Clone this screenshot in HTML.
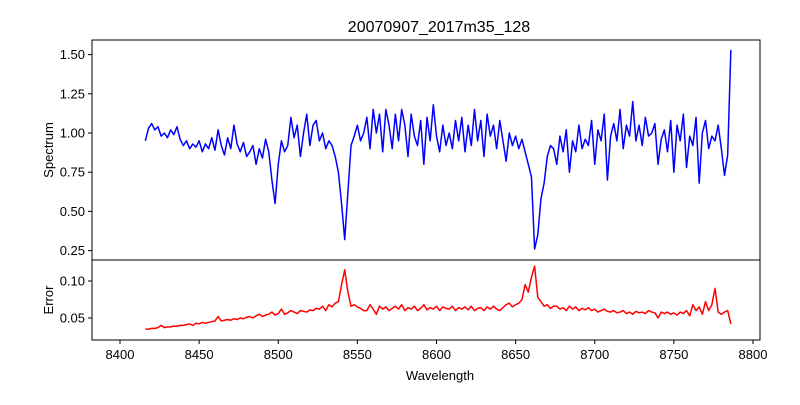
<!DOCTYPE html>
<html><head><meta charset="utf-8"><style>
body{margin:0;background:#fff;}
svg{font-family:"Liberation Sans","DejaVu Sans",sans-serif;}
</style></head><body>
<svg id="chart" width="800" height="400" viewBox="0 0 800 400">
<rect x="0" y="0" width="800" height="400" fill="#fff"/>
<text x="439" y="32" text-anchor="middle" font-size="16">20070907_2017m35_128</text>
<text transform="translate(53,150) rotate(-90)" text-anchor="middle" font-size="13">Spectrum</text>
<text transform="translate(53,300) rotate(-90)" text-anchor="middle" font-size="13">Error</text>
<text x="440" y="380" text-anchor="middle" font-size="13">Wavelength</text>
<g id="topPanel"></g>
<g id="botPanel"></g>
</svg>
<script>
const wlStart = 8416, wlStep = 2;
const spectrum = [
0.95,1.03,1.06,1.02,1.04,0.98,1.00,0.97,1.02,0.99,
1.04,0.96,0.92,0.95,0.90,0.93,0.91,0.95,0.88,0.93,
0.90,0.97,0.89,1.02,0.92,0.86,0.97,0.90,1.05,0.93,
0.88,0.94,0.85,0.88,0.92,0.80,0.90,0.84,0.96,0.88,
0.70,0.55,0.80,0.95,0.88,0.92,1.10,0.97,1.05,0.85,
1.00,1.12,0.92,1.05,1.08,0.95,1.00,0.90,0.95,0.92,
0.85,0.75,0.55,0.32,0.62,0.92,0.98,1.05,0.95,1.00,
1.10,0.90,1.15,1.00,1.12,0.88,1.15,1.05,0.90,1.12,
0.95,1.15,1.05,0.85,1.12,0.98,0.92,1.08,0.80,1.10,
0.95,1.18,0.98,0.88,1.05,0.92,1.00,0.90,1.08,0.95,
1.10,0.88,1.05,0.92,1.15,0.95,1.08,0.85,1.12,0.98,
1.05,0.90,1.08,0.95,0.82,1.00,0.92,0.98,0.90,0.96,
0.88,0.80,0.72,0.26,0.35,0.58,0.68,0.85,0.92,0.90,
0.80,0.98,0.88,1.02,0.75,0.95,0.88,1.05,0.90,0.96,
0.92,1.08,0.80,1.02,0.95,1.12,0.70,0.98,1.06,0.95,
1.15,0.90,1.05,0.98,1.20,0.95,1.05,0.92,1.10,0.98,
1.00,1.06,0.80,0.96,1.02,0.88,1.08,0.75,1.05,0.95,
1.12,0.78,0.98,0.92,1.10,0.68,1.00,1.08,0.90,0.98,
0.95,1.05,0.90,0.73,0.86,1.53];
const errors = [
0.035,0.035,0.036,0.036,0.037,0.040,0.037,0.038,0.038,0.039,
0.039,0.040,0.040,0.041,0.042,0.040,0.043,0.042,0.044,0.043,
0.044,0.045,0.046,0.052,0.046,0.047,0.048,0.047,0.049,0.048,
0.050,0.049,0.051,0.052,0.050,0.053,0.055,0.052,0.054,0.055,
0.058,0.054,0.056,0.062,0.055,0.057,0.060,0.058,0.056,0.060,
0.059,0.058,0.061,0.060,0.063,0.062,0.066,0.060,0.068,0.065,
0.070,0.072,0.095,0.115,0.085,0.066,0.068,0.065,0.063,0.060,
0.060,0.068,0.062,0.055,0.066,0.062,0.065,0.060,0.063,0.066,
0.062,0.068,0.060,0.064,0.062,0.066,0.060,0.063,0.068,0.061,
0.064,0.062,0.066,0.060,0.065,0.063,0.062,0.066,0.060,0.064,
0.062,0.065,0.061,0.066,0.060,0.063,0.064,0.060,0.065,0.062,
0.066,0.062,0.060,0.064,0.068,0.070,0.065,0.068,0.070,0.075,
0.095,0.085,0.105,0.120,0.078,0.072,0.066,0.068,0.063,0.066,
0.066,0.062,0.064,0.060,0.066,0.062,0.065,0.060,0.063,0.061,
0.064,0.060,0.062,0.058,0.060,0.062,0.059,0.058,0.060,0.057,
0.058,0.060,0.056,0.058,0.055,0.059,0.057,0.058,0.056,0.060,
0.058,0.057,0.050,0.058,0.056,0.058,0.055,0.057,0.054,0.058,
0.056,0.060,0.053,0.068,0.060,0.065,0.055,0.072,0.060,0.068,
0.090,0.058,0.055,0.058,0.060,0.042];
const xTicks = [8400,8450,8500,8550,8600,8650,8700,8750,8800];
const topTicks = [0.25,0.50,0.75,1.00,1.25,1.50];
const botTicks = [0.05,0.10];

const NS="http://www.w3.org/2000/svg";
const X0=92,X1=760;
const xs = w => 120 + (w-8400)*(753-120)/400;
const ysTop = v => 133 - (v-1.0)*156.8;
const ysBot = v => 281 - (v-0.10)*740;
function mk(tag,attrs,parent){const e=document.createElementNS(NS,tag);for(const k in attrs)e.setAttribute(k,attrs[k]);parent.appendChild(e);return e;}
const topG=document.getElementById('topPanel'), botG=document.getElementById('botPanel');

function drawLine(parent,vals,ys,color,name){
  const pts=vals.map((v,i)=>xs(wlStart+i*wlStep).toFixed(2)+','+ys(v).toFixed(2)).join(' ');
  const p=mk('polyline',{points:pts,fill:'none',stroke:color,'stroke-width':1.5,'stroke-linejoin':'round'},parent);
  
  
}
drawLine(topG,spectrum,ysTop,'#0000ff','spectrum-line');
drawLine(botG,errors,ysBot,'#ff0000','error-line');

function frame(parent,y0,y1,name){
  const r=mk('rect',{x:X0,y:y0,width:X1-X0,height:y1-y0,fill:'none',stroke:'#000','stroke-width':1},parent);
  
  
}
frame(topG,40,260,'spectrum-axes-frame');
frame(botG,260,340,'error-axes-frame');

topTicks.forEach(t=>{
  const y=ysTop(t);
  mk('line',{x1:X0-4,x2:X0,y1:y,y2:y,stroke:'#000'},topG);
  const tx=mk('text',{x:X0-7,y:y+4.5,'text-anchor':'end','font-size':13},topG);
  tx.textContent=t.toFixed(2);
  
  
});
botTicks.forEach(t=>{
  const y=ysBot(t);
  mk('line',{x1:X0-4,x2:X0,y1:y,y2:y,stroke:'#000'},botG);
  const tx=mk('text',{x:X0-7,y:y+4.5,'text-anchor':'end','font-size':13},botG);
  tx.textContent=t.toFixed(2);
  
  
});
xTicks.forEach(t=>{
  const x=xs(t);
  mk('line',{x1:x,x2:x,y1:340,y2:344,stroke:'#000'},botG);
  const tx=mk('text',{x:x,y:359,'text-anchor':'middle','font-size':13},botG);
  tx.textContent=t;
  
  
});
</script>
</body></html>
